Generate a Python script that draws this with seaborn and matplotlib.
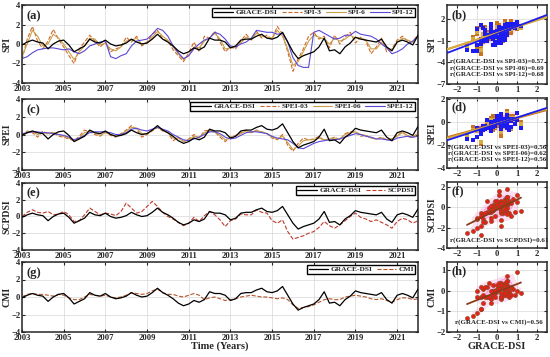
import numpy as np
import pandas as pd
import matplotlib.pyplot as plt
import seaborn as sns

# quarterly samples, 2003.00 ... 2022.00
years = 2003 + np.arange(77) / 4.0

grace = [-0.1, 0.2, 0.4, 0.2, 0.1, -0.5, 0.0, 0.3, 0.4, -0.1, -0.8, -0.5,
         -0.2, 0.5, 0.2, 0.1, 0.4, 0.0, -0.2, -0.1, 0.1, 0.5, 0.2, 0.0,
         0.1, 0.5, 1.0, 0.5, 0.2, -0.2, -0.7, -1.0, -0.8, -0.4, -0.6, -0.3,
         0.6, 0.4, 0.4, 0.2, -0.4, -0.2, 0.4, 0.5, 0.5, 0.8, 1.0, 0.6,
         0.5, 0.7, 1.2, 0.2, -0.8, -1.5, -1.2, -1.0, -0.8, -0.3, 0.6, -0.7,
         -0.6, -1.0, -0.3, 0.1, 0.7, 0.5, 0.4, 0.3, 0.2, 0.5, -0.3, -0.7,
         0.2, 0.4, 0.2, -0.1, 0.9]

spi3 = [-1.6, 0.5, 1.8, 0.3, -0.5, 0.3, 1.5, 0.5, -0.3, -1.2, -2.0, -0.5,
        0.2, 0.9, 0.3, -0.3, 0.2, -0.8, -0.5, -0.3, 0.7, 0.2, 0.8, -0.2,
        0.2, 1.0, 1.4, 0.5, 0.3, -0.6, -1.2, -1.8, -0.9, 0.2, -0.8, 0.8,
        0.6, 1.3, 0.2, -0.8, -0.3, -0.5, 0.3, 1.0, 0.4, 1.3, 0.6, 0.9,
        0.5, 1.8, 1.0, -0.8, -2.8, -1.5, -0.5, 0.8, 1.2, 0.5, 0.8, -0.4,
        0.9, 0.0, 0.7, 1.2, 0.1, 0.7, 0.3, -1.0, -0.3, 0.6, -0.8, -0.5,
        0.4, 0.8, 0.3, 0.2, 1.0]

spi6 = [-1.3, 0.0, 1.4, 0.8, -0.2, 0.0, 1.0, 0.6, 0.0, -0.8, -1.6, -0.8,
        -0.2, 0.6, 0.5, -0.1, 0.1, -0.5, -0.7, -0.3, 0.3, 0.4, 0.6, 0.0,
        0.1, 0.7, 1.3, 0.8, 0.4, -0.3, -1.0, -1.6, -1.2, -0.3, -0.4, 0.3,
        0.6, 1.1, 0.5, -0.5, -0.4, -0.3, 0.1, 0.7, 0.5, 1.1, 0.8, 0.7,
        0.6, 1.4, 0.8, -0.5, -2.2, -1.8, -0.8, 0.3, 0.9, 0.7, 0.5, 0.0,
        0.6, 0.3, 0.5, 0.9, 0.6, 0.6, 0.4, -0.5, -0.5, 0.2, -0.4, -0.6,
        0.2, 0.6, 0.4, 0.2, 0.8]

spi12 = [-1.5, -1.3, -0.9, -0.6, -0.5, -0.4, -0.4, -0.5, -0.6, -0.5, -0.8, -1.0,
         -0.7, -0.2, 0.0, 0.2, 0.3, -1.3, -1.5, -1.2, -1.0, -0.2, 0.3, 0.4,
         0.5, 1.0, 1.6, 1.4, 0.8, -0.2, -0.9, -1.5, -1.2, -0.5, 0.0, 0.4,
         0.6, 1.2, 1.0, 0.5, -0.2, -0.3, 0.0, 0.2, 0.6, 1.4, 1.3, 1.2,
         1.2, 1.0, 1.1, 0.2, -1.4, -2.2, -2.4, -2.4, 1.2, 1.4, 1.1, 0.8,
         0.5, 0.6, 0.9, 0.9, 1.3, 1.0, 0.9, 0.8, 0.5, 0.0, -0.4, -1.0,
         -0.8, -0.5, 0.0, 0.3, 0.8]

spei3 = [-0.2, 0.4, 0.2, -0.3, 0.4, 0.0, 0.3, -0.2, -0.3, -0.5, -0.7, -0.2,
         0.5, 0.3, 0.0, -0.2, 0.3, -0.1, -0.3, 0.1, 0.5, 1.0, 0.6, -0.3,
         0.0, 0.4, 0.8, 0.4, 0.2, -0.7, -0.3, -0.8, -0.5, 0.0, -0.4, 0.4,
         0.5, 0.3, -0.3, -0.8, -0.3, -0.1, 0.2, 0.5, 0.2, 0.5, 0.3, 0.1,
         -0.4, -0.6, 0.0, -1.2, -1.9, -1.0, -0.4, -0.6, -0.5, -0.2, -0.7, -0.5,
         -0.3, -0.6, 0.1, 0.3, 0.3, -0.2, -0.1, -0.4, -0.5, -0.3, -0.6, -0.5,
         -0.1, 0.3, -0.2, -0.4, 0.3]

spei6 = [-0.1, 0.3, 0.3, 0.0, 0.2, 0.1, 0.2, 0.0, -0.2, -0.4, -0.7, -0.4,
         0.2, 0.4, 0.2, -0.1, 0.2, 0.0, -0.2, 0.0, 0.4, 0.8, 0.7, 0.1,
         0.1, 0.5, 0.8, 0.5, 0.2, -0.4, -0.4, -0.8, -0.6, -0.2, -0.3, 0.2,
         0.4, 0.3, -0.1, -0.6, -0.4, -0.2, 0.1, 0.4, 0.3, 0.4, 0.3, 0.1,
         -0.3, -0.5, -0.2, -0.9, -1.7, -1.3, -0.7, -0.6, -0.6, -0.4, -0.6, -0.5,
         -0.4, -0.5, 0.0, 0.2, 0.3, 0.0, -0.1, -0.4, -0.5, -0.4, -0.6, -0.5,
         -0.2, 0.2, -0.1, -0.3, 0.1]

spei12 = [0.1, 0.2, 0.3, 0.3, 0.2, 0.2, 0.1, 0.0, -0.1, -0.3, -0.6, -0.4,
          -0.1, 0.2, 0.3, 0.3, 0.3, 0.2, 0.0, 0.0, 0.2, 0.6, 0.7, 0.5,
          0.4, 0.6, 0.8, 0.6, 0.4, 0.0, -0.3, -0.6, -0.7, -0.5, -0.3, 0.0,
          0.3, 0.3, 0.1, -0.3, -0.5, -0.4, -0.1, 0.2, 0.3, 0.3, 0.2, 0.1,
          -0.2, -0.4, -0.5, -0.6, -1.0, -1.5, -1.6, -1.3, -1.0, -0.8, -0.7, -0.6,
          -0.6, -0.5, -0.3, -0.1, 0.1, 0.0, -0.2, -0.3, -0.5, -0.5, -0.6, -0.7,
          -0.4, -0.3, -0.2, -0.3, -0.2]

scpdsi = [0.0, 0.5, 0.8, 0.5, 0.4, 0.6, 0.2, 0.3, 0.6, 0.2, -0.6, -0.5,
          0.2, 1.0, 0.6, 0.2, 0.4, 0.3, 0.1, 0.6, 1.6, 1.0, 0.4, 0.6,
          1.2, 1.8, 1.2, 0.5, 0.0, -0.3, -0.7, -1.1, -0.8, -0.1, -0.6, 0.1,
          0.6, 0.2, -0.4, -1.2, -0.5, -0.3, 0.3, 0.2, 0.2, 0.8, 0.5, 0.4,
          -0.5, -0.8, -0.4, -1.8, -2.7, -2.5, -2.3, -2.0, -1.8, -1.3, -0.6, -1.1,
          -1.4, -1.0, -0.5, 0.0, 0.4, -0.1, -0.3, -0.6, -0.4, -0.7, -1.0, -1.4,
          -0.6, -0.2, -0.4, -0.8, -0.5]

cmi = [0.0, 0.3, 0.4, 0.3, 0.3, 0.2, 0.1, 0.3, 0.2, -0.1, -0.3, -0.3,
       0.0, 0.3, 0.2, 0.1, 0.2, 0.0, -0.1, 0.0, 0.2, 0.5, 0.4, 0.3,
       0.4, 0.7, 0.9, 0.5, 0.3, 0.3, 0.1, 0.0, 0.2, 0.4, 0.2, -0.3,
       -0.1, 0.0, -0.2, -0.4, -0.3, -0.2, 0.0, 0.1, 0.2, 0.1, 0.0, 0.0,
       -0.1, -0.2, -0.1, -0.3, -0.9, -1.3, -1.2, -1.1, -0.9, -0.6, -0.3, -0.2,
       -0.3, -0.3, 0.0, 0.1, 0.2, 0.1, 0.0, -0.2, -0.3, -0.2, -0.4, -0.6,
       -0.3, -0.1, -0.1, -0.3, -0.2]

r_spi = ['r(GRACE-DSI vs SPI-03)=0.57', 'r(GRACE-DSI vs SPI-06)=0.69',
         'r(GRACE-DSI vs SPI-12)=0.68']
r_spei = ['r(GRACE-DSI vs SPEI-03)=0.56', 'r(GRACE-DSI vs SPEI-06)=0.62',
          'r(GRACE-DSI vs SPEI-12)=0.56']
r_scpdsi = ['r(GRACE-DSI vs SCPDSI)=0.61']
r_cmi = ['r(GRACE-DSI vs CMI)=0.56']

df = pd.DataFrame({'Year': years, 'GRACE-DSI': grace,
                   'SPI-3': spi3, 'SPI-6': spi6, 'SPI-12': spi12,
                   'SPEI-03': spei3, 'SPEI-06': spei6, 'SPEI-12': spei12,
                   'SCPDSI': scpdsi, 'CMI': cmi})

sns.set_style('ticks')
plt.rcParams['font.family'] = ['Liberation Serif', 'DejaVu Serif']
plt.rcParams['font.weight'] = 'bold'
plt.rcParams['axes.labelweight'] = 'bold'
plt.rcParams['axes.linewidth'] = 1.0

C3, C6, C12 = '#d06a28', '#c9a04a', '#5a48d8'
SC3, SC6, SC12 = '#c8741e', '#d8ac3c', '#1c1cf0'

rows = [
    dict(tag='ab', ylab='SPI', cols=[('SPI-3', C3, '--', SC3), ('SPI-6', C6, '-', SC6), ('SPI-12', C12, '-', SC12)],
         box=(5, 83), rbox=(5, 84), rylim=(-7, 4), ryt=[-7, -4, -1, 2], txt=r_spi, ty=[0.29, 0.205, 0.12]),
    dict(tag='cd', ylab='SPEI', cols=[('SPEI-03', C3, '--', SC3), ('SPEI-06', C6, '-', SC6), ('SPEI-12', C12, '-', SC12)],
         box=(99, 170), rbox=(98, 168), rylim=(-4, 2.1), ryt=[-4, -2, 0, 2], txt=r_spei, ty=[0.30, 0.21, 0.12]),
    dict(tag='ef', ylab='SCPDSI', cols=[('SCPDSI', '#c0392b', '--', '#ee1c1c')],
         box=(183, 250), rbox=(182, 248), rylim=(-4, 2.5), ryt=[-4, -2, 0, 2], txt=r_scpdsi, ty=[0.12]),
    dict(tag='gh', ylab='CMI', cols=[('CMI', '#b5542a', '--', '#ee1c1c')],
         box=(262, 332), rbox=(262, 332), rylim=(-2, 1.4), ryt=[-2, -1, 0, 1], txt=r_cmi, ty=[0.14]),
]

W, H = 550, 357
fig = plt.figure(figsize=(5.5, 3.57), dpi=100)


def px_axes(l, t, r, b):
    return fig.add_axes([l / W, 1 - b / H, (r - l) / W, (b - t) / H])


def style(ax):
    ax.grid(True, color='#d8d8d8', lw=0.5)
    ax.tick_params(direction='in', top=True, right=True, labelsize=6.2, length=2.5, pad=1.2)
    for s in ax.spines.values():
        s.set_linewidth(1.1)


for i, row in enumerate(rows):
    # time series panel
    ax = px_axes(22, row['box'][0], 418, row['box'][1])
    sns.lineplot(data=df, x='Year', y='GRACE-DSI', ax=ax, color='black', lw=0.9, label='GRACE-DSI', zorder=3)
    for name, c, ls, _ in row['cols']:
        sns.lineplot(data=df, x='Year', y=name, ax=ax, color=c, lw=0.8, linestyle=ls, label=name)
    ax.set_xlim(2003, 2022)
    ax.set_ylim(-4, 4)
    ax.set_xticks(range(2003, 2022, 2))
    ax.set_yticks([-4, -2, 0, 2, 4])
    ax.set_ylabel(row['ylab'], fontsize=7, labelpad=0)
    ax.set_xlabel('Time (Years)' if i == 3 else '', fontsize=7.5, labelpad=0)
    style(ax)
    ax.text(0.012, 0.93, '(%s)' % row['tag'][0], transform=ax.transAxes, fontsize=9,
            fontweight='bold', va='top')
    ax.legend(loc='upper right', ncol=len(row['cols']) + 1, fontsize=5.4, frameon=True,
              fancybox=False, edgecolor='black', framealpha=1, handlelength=2.6,
              columnspacing=0.6, handletextpad=0.3, borderpad=0.2, borderaxespad=0.35)

    # scatter panel
    bx = px_axes(447, row['rbox'][0], 547, row['rbox'][1])
    bx.set_xlim(-2.5, 2.5)
    bx.set_ylim(*row['rylim'])
    allx = np.tile(grace, len(row['cols']))
    ally = np.concatenate([df[n].values for n, _, _, _ in row['cols']])
    sns.kdeplot(x=allx, y=ally, ax=bx, fill=True, color='#ff7fd0', alpha=0.3,
                levels=4, thresh=0.15, zorder=1)
    for name, c, ls, sc in row['cols']:
        if len(row['cols']) == 1:
            sns.scatterplot(x=grace, y=df[name], ax=bx, color=sc, edgecolor='#8b4a1a',
                            linewidth=0.5, s=8, zorder=3)
        else:
            sns.scatterplot(x=grace, y=df[name], ax=bx, color=sc, marker='s',
                            linewidth=0, s=6, zorder=3)
    for name, c, ls, sc in row['cols']:
        lc = '#8b3a1a' if len(row['cols']) == 1 else sc
        sns.regplot(x=grace, y=df[name], ax=bx, scatter=False, ci=None,
                    truncate=len(row['cols']) == 1,
                    line_kws=dict(color=lc, lw=1.3, zorder=4))
    bx.set_xlim(-2.5, 2.5)
    bx.set_ylim(*row['rylim'])
    bx.set_xticks([-2, -1, 0, 1, 2])
    bx.set_yticks(row['ryt'])
    bx.set_ylabel(row['ylab'], fontsize=7, labelpad=0)
    bx.set_xlabel('GRACE-DSI' if i == 3 else '', fontsize=7.5, labelpad=0)
    style(bx)
    bx.text(0.04, 0.95, '(%s)' % row['tag'][1], transform=bx.transAxes, fontsize=9,
            fontweight='bold', va='top')
    for t, y in zip(row['txt'], row['ty']):
        bx.text(0.5 if len(row['txt']) > 1 else 0.52, y, t, transform=bx.transAxes,
                fontsize=5.0, ha='center', va='center', zorder=5)

fig.savefig('out.png', dpi=100)
